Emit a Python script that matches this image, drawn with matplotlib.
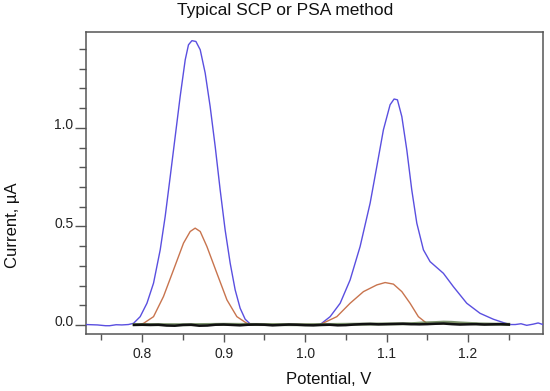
import matplotlib
matplotlib.use("Agg")
import matplotlib.pyplot as plt
from matplotlib.ticker import MultipleLocator, FormatStrFormatter
import matplotlib.transforms as mtransforms

plt.rcParams['font.family'] = ['Liberation Sans', 'DejaVu Sans']

# ---------------- data ----------------
title = "Typical SCP or PSA method"
xlabel = "Potential, V"
ylabel = "Current, µA"

blue_x = [0.731, 0.745, 0.755, 0.760, 0.768, 0.775, 0.783, 0.7893, 0.7975, 0.8058, 0.8139,
          0.8221, 0.8282, 0.8344, 0.8405, 0.8466, 0.8528, 0.8568, 0.8610, 0.8659, 0.8712,
          0.8773, 0.8834, 0.8896, 0.8957, 0.9018, 0.9080, 0.9141, 0.9202, 0.9264, 0.9325,
          0.940, 0.960, 0.980, 1.000, 1.0184, 1.0307, 1.043, 1.0552, 1.0675, 1.0798, 1.088,
          1.0961, 1.1043, 1.1092, 1.1133, 1.1187, 1.1248, 1.1309, 1.1371, 1.1452, 1.1534,
          1.1697, 1.182, 1.1984, 1.2147, 1.231, 1.2433, 1.2515, 1.258, 1.265, 1.272, 1.280,
          1.286, 1.292]
blue_y = [0.002, 0.000, -0.004, -0.004, 0.001, 0.000, 0.002, 0.008, 0.042, 0.110, 0.212,
          0.381, 0.550, 0.753, 0.956, 1.159, 1.345, 1.421, 1.442, 1.438, 1.396,
          1.278, 1.108, 0.905, 0.685, 0.482, 0.313, 0.178, 0.085, 0.029, 0.005,
          0.001, 0.001, 0.001, 0.001, 0.002, 0.042, 0.110, 0.228, 0.398, 0.618, 0.804,
          0.990, 1.117, 1.146, 1.142, 1.057, 0.888, 0.685, 0.516, 0.381, 0.321,
          0.262, 0.194, 0.110, 0.059, 0.029, 0.012, 0.002, 0.002, 0.006, -0.002, 0.004,
          0.010, 0.002]

red_x = [0.795, 0.8016, 0.8139, 0.8261, 0.8384, 0.8507, 0.8589, 0.8650, 0.8712, 0.8794,
         0.8917, 0.9040, 0.9162, 0.9285, 0.935,
         1.0184, 1.0389, 1.0552, 1.0716, 1.088, 1.0982, 1.1084, 1.1187, 1.1288, 1.139,
         1.1493, 1.160, 1.180, 1.200, 1.220, 1.250]
red_y = [0.000, 0.008, 0.042, 0.144, 0.279, 0.415, 0.474, 0.491, 0.474, 0.398,
         0.262, 0.127, 0.042, 0.008, 0.002,
         0.002, 0.042, 0.110, 0.169, 0.203, 0.215, 0.207, 0.169, 0.110, 0.042,
         0.008, 0.006, 0.008, 0.006, 0.004, 0.002]

base_x = [0.790, 0.800, 0.810, 0.820, 0.830, 0.840, 0.850, 0.860, 0.870, 0.880, 0.890,
          0.900, 0.910, 0.920, 0.930, 0.940, 0.950, 0.960, 0.970, 0.980, 0.990, 1.000,
          1.010, 1.020, 1.030, 1.040, 1.050, 1.060, 1.070, 1.080, 1.090, 1.100, 1.110,
          1.120, 1.130, 1.140, 1.150, 1.160, 1.170, 1.180, 1.190, 1.200, 1.210, 1.220,
          1.230, 1.240, 1.250]
base_y = [0.000, 0.001, 0.000, 0.001, -0.003, -0.004, 0.000, 0.001, -0.004, -0.003, 0.001,
          0.002, 0.000, -0.002, 0.001, 0.002, 0.001, -0.002, 0.000, 0.002, 0.001, -0.001,
          -0.002, 0.000, 0.001, -0.002, -0.001, 0.002, 0.004, 0.005, 0.003, 0.004, 0.005,
          0.006, 0.004, 0.003, 0.004, 0.006, 0.007, 0.004, 0.002, 0.003, 0.004, 0.002,
          0.003, 0.004, 0.002]

green_x = [0.790, 0.850, 0.900, 0.950, 1.000, 1.050, 1.100, 1.130, 1.145, 1.160, 1.170,
           1.180, 1.190, 1.200, 1.215, 1.230, 1.250]
green_y = [0.002, 0.001, 0.003, 0.002, 0.001, 0.003, 0.005, 0.006, 0.010, 0.012, 0.014,
           0.013, 0.010, 0.008, 0.005, 0.004, 0.003]

xlim = (0.731, 1.292)
ylim = (-0.046, 1.486)

# ---------------- figure ----------------
fig = plt.figure(figsize=(5.5, 3.91), dpi=100)
ax = fig.add_axes([86/550, 1-334/391, (543-86)/550, (334-32)/391])

ax.plot(blue_x, blue_y, color='#5a4fe0', lw=1.0, zorder=3, solid_joinstyle='round')
ax.plot(red_x, red_y, color='#c8744e', lw=1.0, zorder=3, solid_joinstyle='round')
ax.plot(green_x, green_y, color='#5d7a4a', lw=2.2, zorder=4, alpha=0.8)
ax.plot(base_x, base_y, color='#111111', lw=1.8, zorder=5)

ax.set_xlim(*xlim)
ax.set_ylim(*ylim)

ax.xaxis.set_major_locator(MultipleLocator(0.1))
ax.xaxis.set_minor_locator(MultipleLocator(0.05))
ax.yaxis.set_major_locator(MultipleLocator(0.5))
ax.yaxis.set_minor_locator(MultipleLocator(0.1))
ax.xaxis.set_major_formatter(FormatStrFormatter('%.1f'))
ax.yaxis.set_major_formatter(FormatStrFormatter('%.1f'))

for s in ax.spines.values():
    s.set_color('#555555')
    s.set_linewidth(1.1)

ax.tick_params(axis='both', which='both', direction='out', colors='#555555',
               labelcolor='#222222', labelsize=10)
ax.tick_params(axis='x', which='major', length=6, width=1, pad=3)
ax.tick_params(axis='x', which='minor', length=4, width=1)
ax.tick_params(axis='y', which='major', length=8, width=1, pad=1)
ax.tick_params(axis='y', which='minor', length=5, width=1)

offset = mtransforms.ScaledTranslation(0, 3/72, fig.dpi_scale_trans)
for lab in ax.get_yticklabels():
    lab.set_transform(lab.get_transform() + offset)

fig.text(285/550, 1-11/391, title, ha='center', va='center', fontsize=12.5, color='#111111')
fig.text(329/550, 1-379/391, xlabel, ha='center', va='center', fontsize=12, color='#111111')
fig.text(13/550, 1-225/391, ylabel, ha='center', va='center', rotation=90, fontsize=12,
         color='#111111')

fig.savefig('out.png', dpi=100)
